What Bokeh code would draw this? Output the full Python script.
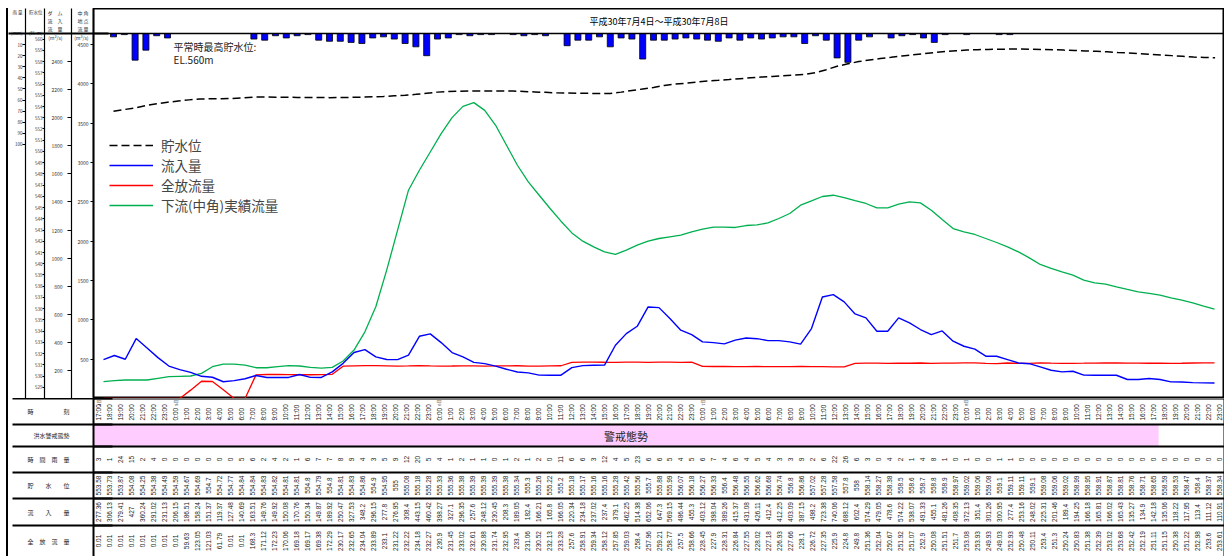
import numpy as np
from bokeh.plotting import figure
from bokeh.models import (Range1d, LinearAxis, FixedTicker, ColumnDataSource, Legend,
                          LegendItem, Label, Span, NumeralTickFormatter)
from bokeh.layouts import column
from bokeh.embed import file_html
from bokeh.resources import INLINE
from bokeh.core.properties import value

# ---------------- data ----------------
title_text = "平成30年7月4日～平成30年7月8日"
day_of_hour = [4] * 7 + [5] * 24 + [6] * 24 + [7] * 24 + [8] * 24
hour_of_day = list(range(17, 24)) + list(range(24)) * 4

rain = [3, 1, 24, 15, 2, 4, 0, 0, 0, 0,
        0, 0, 0, 5, 6, 2, 4, 2, 1, 6,
        7, 7, 8, 9, 4, 3, 5, 9, 12, 20,
        5, 4, 1, 2, 1, 1, 0, 1, 2, 1,
        2, 0, 11, 6, 6, 3, 12, 4, 5, 23,
        6, 6, 5, 4, 5, 6, 7, 4, 6, 4,
        5, 4, 3, 3, 9, 2, 6, 22, 26, 6,
        3, 0, 4, 2, 1, 4, 8, 1, 0, 1,
        0, 0, 1, 1, 0, 0, 0, 0, 0, 0,
        0, 0, 0, 0, 0, 0, 0, 0, 0, 0,
        0, 0, 0]

level = [553.58, 553.73, 553.87, 554.08, 554.25, 554.38, 554.49, 554.59, 554.67, 554.69,
         554.70, 554.72, 554.77, 554.84, 554.84, 554.83, 554.82, 554.81, 554.81, 554.80,
         554.79, 554.80, 554.81, 554.83, 554.86, 554.90, 554.95, 555.00, 555.08, 555.18,
         555.28, 555.33, 555.36, 555.38, 555.39, 555.39, 555.39, 555.38, 555.34, 555.30,
         555.26, 555.22, 555.20, 555.18, 555.17, 555.16, 555.16, 555.28, 555.42, 555.56,
         555.70, 555.88, 555.99, 556.07, 556.18, 556.27, 556.33, 556.40, 556.48, 556.55,
         556.62, 556.68, 556.74, 556.80, 556.86, 557.02, 557.28, 557.58, 557.80, 558.00,
         558.14, 558.27, 558.38, 558.50, 558.60, 558.70, 558.80, 558.90, 558.97, 559.02,
         559.06, 559.08, 559.10, 559.11, 559.11, 559.10, 559.08, 559.06, 559.02, 558.99,
         558.95, 558.91, 558.87, 558.81, 558.76, 558.71, 558.65, 558.59, 558.53, 558.47,
         558.40, 558.37, 558.34]

inflow = [277.36, 306.13, 279.41, 427.00, 360.24, 291.02, 231.13, 206.15, 186.51, 158.24,
          151.37, 119.37, 127.48, 140.69, 163.51, 149.76, 149.92, 150.08, 170.76, 150.34,
          149.87, 189.92, 250.47, 327.53, 348.20, 296.15, 277.80, 276.95, 308.40, 443.15,
          460.42, 398.27, 327.10, 296.35, 257.60, 248.12, 230.45, 208.30, 189.05, 182.40,
          166.21, 165.80, 166.05, 220.34, 234.18, 237.02, 237.40, 379.10, 462.25, 514.38,
          652.06, 647.30, 569.15, 486.44, 455.30, 403.12, 398.04, 389.26, 415.37, 431.08,
          426.11, 412.40, 412.25, 403.09, 387.15, 498.20, 723.38, 740.06, 688.12, 602.40,
          574.29, 479.05, 478.60, 574.22, 538.07, 491.33, 455.10, 481.26, 408.35, 372.13,
          351.40, 301.26, 300.95, 277.40, 253.16, 248.02, 225.31, 201.46, 189.40, 194.25,
          166.18, 165.81, 166.02, 165.43, 135.27, 134.90, 142.18, 135.06, 118.22, 117.95,
          113.40, 111.12, 110.91]

outflow = [0.01, 0.01, 0.01, 0.01, 0.01, 0.01, 0.01, 0.01, 59.63, 123.05,
           121.03, 61.79, 0.01, 0.01, 168.30, 171.12, 172.23, 170.06, 169.18, 169.17,
           169.38, 172.29, 230.17, 232.65, 234.04, 233.89, 233.10, 231.22, 232.22, 234.18,
           232.27, 230.90, 231.45, 233.02, 232.61, 230.88, 231.74, 232.95, 233.40, 231.06,
           230.52, 232.13, 233.28, 257.60, 258.91, 259.34, 258.12, 257.85, 259.03, 258.40,
           257.96, 259.21, 258.77, 257.50, 258.66, 228.45, 227.90, 228.31, 226.84, 227.55,
           228.02, 227.18, 226.93, 227.66, 228.10, 226.72, 227.35, 225.90, 224.80, 249.80,
           251.36, 252.04, 250.67, 251.92, 251.07, 252.90, 250.08, 251.51, 251.70, 253.08,
           253.93, 249.93, 249.03, 252.93, 250.48, 250.11, 253.40, 251.30, 250.24, 250.83,
           251.38, 252.39, 253.02, 253.68, 252.42, 252.19, 251.11, 251.15, 250.38, 251.22,
           252.98, 253.60, 253.61]

naka = [214, 226, 235, 235, 235, 256, 277, 282, 286, 320,
        404, 438, 438, 425, 391, 391, 404, 417, 413, 396,
        387, 396, 476, 616, 848, 1166, 1632, 2140, 2648, 2902,
        3134, 3368, 3571, 3714, 3761, 3663, 3473, 3219, 2965, 2753,
        2584, 2415, 2254, 2105, 2000, 1928, 1864, 1831, 1886, 1949,
        2000, 2034, 2055, 2076, 2118, 2152, 2178, 2178, 2174, 2199,
        2207, 2232, 2288, 2352, 2457, 2512, 2568, 2584, 2555, 2515,
        2479, 2423, 2423, 2470, 2499, 2487, 2394, 2275, 2161, 2118,
        2085, 2034, 1983, 1928, 1864, 1788, 1704, 1653, 1610, 1568,
        1505, 1471, 1454, 1420, 1387, 1356, 1336, 1314, 1280, 1251,
        1217, 1175, 1137]

warning_from = (4, 17)
warning_to = (8, 17)
warning_text = "警戒態勢"

series_names = ["貯水位", "流入量", "全放流量", "下流(中角)実績流量"]
row_names = ["時　　　　　刻", "洪水警戒態勢", "時　間　雨　量", "貯　　水　　位",
             "流　　入　　量", "全　放　流　量"]
# column headings of the four axes: heading lines, unit
head_rain = (["雨 量"], "(mm)")
head_level = (["貯水位"], "(EL.m)")
head_inflow = (["ダ　ム", "流　入", "流　量"], "(m³/s)")
head_naka = (["中 角", "地 点", "流 量"], "(m³/s)")
note_lines = ["平常時最高貯水位:", "EL.560m"]

rain_ticks = list(range(10, 101, 10))
level_ticks = list(range(529, 561))
inflow_ticks = list(range(200, 2401, 200))
naka_ticks = list(range(500, 4501, 500))

# ---------------- layout constants ----------------
TOTAL_W = 1216
LEFT = 84
HEAD_H = 25
PLOT_H = 365
MAIN_H = HEAD_H + PLOT_H
TABLE_H = 158
row_edges = [0, 26, 48, 74, 100, 127, 158]
JP = "Noto Sans CJK JP"
NUM = "Liberation Sans"
K = MAIN_H / PLOT_H
BLANK = "　"

N = len(hour_of_day)
idx = list(range(N))


def fmt(v):
    return f"{v:.2f}".rstrip("0").rstrip(".")


def px_val(rng, y):
    """value of range rng at canvas pixel y (0 = top of the main figure)"""
    return round(rng.start + (rng.end - rng.start) * (MAIN_H - y) / MAIN_H, 3) + 0.0


def head_block(head):
    lines, unit = head
    lines = lines + [BLANK] * (3 - len(lines)) + [unit] + [BLANK] * 4
    return "\n".join(lines)


def border_axis(fig, rng_name, marks):
    """outermost axis: no labels, only inward minor ticks drawing horizontal rules"""
    fig.add_layout(LinearAxis(y_range_name=rng_name,
                              ticker=FixedTicker(ticks=[], minor_ticks=marks),
                              major_tick_out=0, major_tick_in=0, minor_tick_out=0,
                              minor_tick_in=LEFT + 16, minor_tick_line_color="black",
                              minor_tick_line_width=2, major_label_standoff=0,
                              axis_label_standoff=0, axis_line_alpha=0), "left")


# ---------------- main chart (header row + plot) ----------------
inflow_rng = Range1d(0, 2600 * K)
level_rng = Range1d(528, 528 + 32.5 * K)
naka_rng = Range1d(0, 4640 * K)
rain_rng = Range1d(329, -329 * HEAD_H / PLOT_H)

p = figure(width=TOTAL_W, height=MAIN_H, output_backend="svg", toolbar_location=None,
           x_range=Range1d(-0.918, N - 1 + 0.918), y_range=inflow_rng,
           x_axis_location=None, y_axis_location=None,
           min_border_left=LEFT, min_border_right=0, min_border_top=0, min_border_bottom=0,
           outline_line_color="black", outline_line_width=2)
p.grid.visible = False
p.extra_x_ranges = {"sec": Range1d(-1.852, N - 1 + 0.87)}
p.extra_y_ranges = {"level": level_rng, "rain": rain_rng, "naka": naka_rng}

src = ColumnDataSource(dict(i=idx, rain=rain, level=level, inflow=inflow,
                            outflow=outflow, naka=naka))

p.vbar(x="i", top="rain", bottom=0, width=0.56, x_range_name="sec", y_range_name="rain",
       fill_color="#0000FF", line_color="black", line_width=0.8, source=src)
g_green = p.line("i", "naka", y_range_name="naka", line_color="#00B050", line_width=1.3, source=src)
g_red = p.line("i", "outflow", line_color="#FF0000", line_width=1.3, source=src)
g_blue = p.line("i", "inflow", line_color="#0000FF", line_width=1.4, source=src)
g_level = p.line("i", "level", x_range_name="sec", y_range_name="level", line_color="black",
                 line_dash="8 4", line_width=1.5, source=src)

# header row inside the frame
p.add_layout(Span(location=px_val(inflow_rng, HEAD_H), dimension="width",
                  line_color="black", line_width=1.5))
p.text(x=[(p.x_range.start + p.x_range.end) / 2], y=[px_val(inflow_rng, 12.5)], text=[title_text],
       text_align="center", text_baseline="middle", text_font=value(JP),
       text_font_size="9px", text_color="black")


def left_axis(rng_name, rng, ticks, head, size, tick_len, standoff):
    top_v = px_val(rng, HEAD_H)
    ax = LinearAxis(y_range_name=rng_name,
                    ticker=FixedTicker(ticks=list(ticks) + [top_v]),
                    formatter=NumeralTickFormatter(format="0"),
                    major_label_overrides={top_v: head_block(head)},
                    major_tick_out=tick_len, major_tick_in=0,
                    minor_tick_out=0, minor_tick_in=0,
                    major_tick_line_color="black", major_tick_line_width=1,
                    major_label_standoff=standoff, axis_label_standoff=0,
                    major_label_text_font_size=size,
                    major_label_text_font=JP, major_label_text_color="#333",
                    axis_line_width=1.2, axis_line_color="black")
    p.add_layout(ax, "left")
    return ax


left_axis("naka", naka_rng, naka_ticks, head_naka, "5px", 3, 2)
left_axis("default", inflow_rng, inflow_ticks, head_inflow, "5px", 4, 5)
left_axis("level", level_rng, level_ticks, head_level, "4.5px", 2, 0)
left_axis("rain", rain_rng, rain_ticks, head_rain, "4.5px", 3, 0)
border_axis(p, "default", [px_val(inflow_rng, HEAD_H)])

legend = Legend(items=[LegendItem(label=series_names[0], renderers=[g_level]),
                       LegendItem(label=series_names[1], renderers=[g_blue]),
                       LegendItem(label=series_names[2], renderers=[g_red]),
                       LegendItem(label=series_names[3], renderers=[g_green])],
                location=(16, 183), label_text_font=JP, label_text_font_size="13.5px",
                glyph_width=44, glyph_height=20, label_height=20, label_standoff=8,
                padding=0, spacing=0, margin=0, background_fill_alpha=0,
                border_line_alpha=0)
p.add_layout(legend)

for k, yy in enumerate([352, 339]):
    p.add_layout(Label(x=80, y=yy, x_units="screen", y_units="screen", text=note_lines[k],
                       text_font=JP, text_font_size="10px", text_baseline="middle",
                       text_color="#222"))

# ---------------- table ----------------
tf = figure(width=TOTAL_W, height=TABLE_H, x_range=Range1d(-0.5, N - 0.5),
            y_range=Range1d(TABLE_H, 0), output_backend="svg", toolbar_location=None,
            x_axis_location=None, y_axis_location=None,
            min_border_left=LEFT, min_border_right=0, min_border_top=0, min_border_bottom=0,
            outline_line_color=None)
tf.grid.visible = False

centers = [(row_edges[r] + row_edges[r + 1]) / 2 for r in range(len(row_names))]
trail = 4
padded = [BLANK * (13 - trail - len(nm)) + nm + BLANK * trail for nm in row_names]
tf.add_layout(LinearAxis(ticker=FixedTicker(ticks=centers),
                         major_label_overrides=dict(zip(centers, padded)),
                         major_tick_out=0, major_tick_in=0, minor_tick_out=0, minor_tick_in=0,
                         major_label_standoff=0, axis_label_standoff=0,
                         major_label_text_font_size="6px",
                         major_label_text_font=JP, major_label_text_color="#222",
                         axis_line_width=2, axis_line_color="black"), "left")
border_axis(tf, "default", row_edges[:-1])

i_from = next(i for i in idx if (day_of_hour[i], hour_of_day[i]) == warning_from)
i_to = next(i for i in idx if (day_of_hour[i], hour_of_day[i]) == warning_to)
tf.quad(left=i_from - 0.5, right=i_to + 0.5, top=row_edges[1], bottom=row_edges[2],
        fill_color="#FFCCFF", line_color=None)
tf.text(x=[(i_from + i_to) / 2], y=[centers[1]], text=[warning_text],
        text_align="center", text_baseline="middle", text_font=value(JP),
        text_font_size="11px", text_color="#222")

tf.segment(x0=-0.5, x1=N - 0.5, y0=row_edges[:-1], y1=row_edges[:-1], line_color="black",
           line_width=2)
tf.segment(x0=N - 0.5, x1=N - 0.5, y0=0, y1=TABLE_H, line_color="black", line_width=2)

time_labels = [f"{h}:00" for h in hour_of_day]
tf.text(x=idx, y=row_edges[1] - 4, text=time_labels, angle=np.pi / 2, text_align="left",
        text_baseline="middle", text_font=value(NUM), text_font_size="6.5px", text_color="#222")
day_idx = [i for i in idx if i == 0 or hour_of_day[i] == 0]
tf.text(x=day_idx, y=1, text=[f"{day_of_hour[i]}日" for i in day_idx], angle=np.pi / 2,
        text_align="right", text_baseline="middle", text_font=value(JP),
        text_font_size="4px", text_color="#222")

for r, vals in [(2, [str(v) for v in rain]), (3, [fmt(v) for v in level]),
                (4, [fmt(v) for v in inflow]), (5, [fmt(v) for v in outflow])]:
    tf.text(x=idx, y=centers[r], text=vals, angle=np.pi / 2, text_align="center",
            text_baseline="middle", text_font=value(NUM), text_font_size="6.5px",
            text_color="#222")

layout = column(p, tf, margin=(8, 0, 0, 6), styles={"border-left": "2px solid black"})
open("out.html", "w").write(file_html(layout, INLINE, "chart"))
